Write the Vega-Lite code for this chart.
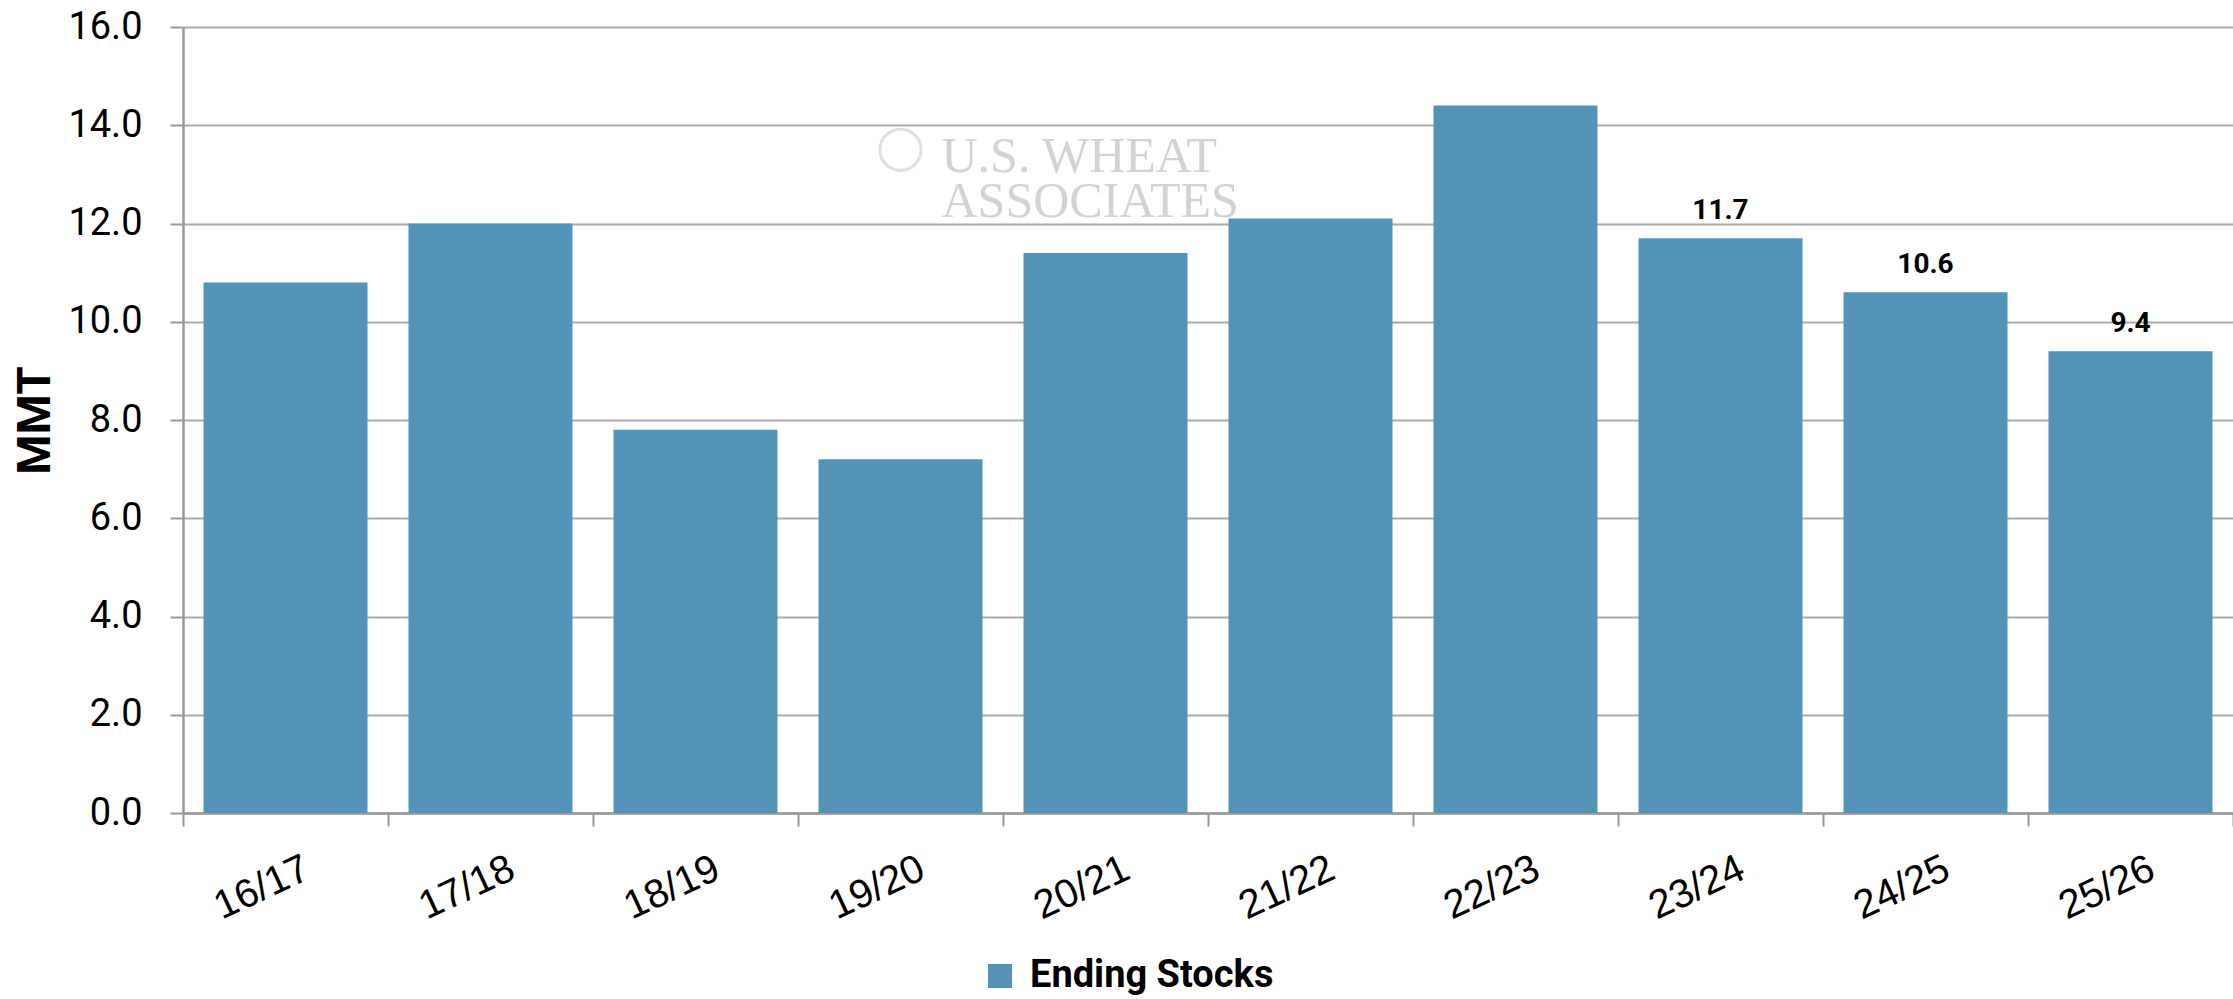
{
  "$schema": "https://vega.github.io/schema/vega-lite/v6.json",
  "width": 2050,
  "height": 786,
  "autosize": {"type": "none"},
  "padding": {"left": 183, "top": 27, "right": 0, "bottom": 186},
  "background": "white",
  "config": {"view": {"stroke": null}, "font": "Roboto"},
  "datasets": {
    "stocks": [
      {"year": "16/17", "value": 10.8},
      {"year": "17/18", "value": 12.0},
      {"year": "18/19", "value": 7.8},
      {"year": "19/20", "value": 7.2},
      {"year": "20/21", "value": 11.4},
      {"year": "21/22", "value": 12.1},
      {"year": "22/23", "value": 14.4},
      {"year": "23/24", "value": 11.7},
      {"year": "24/25", "value": 10.6},
      {"year": "25/26", "value": 9.4}
    ],
    "watermark": [
      {"line": "U.S. WHEAT", "year": "19/20", "value": 13.04},
      {"line": "ASSOCIATES", "year": "19/20", "value": 12.13}
    ],
    "globe": [
      {"year": "19/20", "value": 13.5}
    ]
  },
  "layer": [
    {
      "data": {"name": "stocks"},
      "mark": {"type": "bar", "width": {"band": 0.8}},
      "encoding": {
        "x": {
          "field": "year",
          "type": "nominal",
          "sort": null,
          "scale": {"paddingInner": 0, "paddingOuter": 0},
          "axis": {
            "title": null,
            "labelAngle": -25,
            "labelAlign": "right",
            "labelBaseline": "top",
            "labelFont": "Liberation Sans",
            "labelFontSize": 40,
            "labelColor": "#000000",
            "labelPadding": 22,
            "labelOffset": 13,
            "tickBand": "extent",
            "tickSize": 13,
            "tickColor": "#999999",
            "tickWidth": 2,
            "domainColor": "#999999",
            "domainWidth": 2.5
          }
        },
        "y": {
          "field": "value",
          "type": "quantitative",
          "scale": {"domain": [0, 16], "nice": false},
          "axis": {
            "values": [0, 2, 4, 6, 8, 10, 12, 14, 16],
            "format": ".1f",
            "title": "MMT",
            "titleFont": "Roboto",
            "titleFontSize": 46,
            "titleFontWeight": "bold",
            "titleColor": "#000000",
            "titleAngle": 270,
            "titleX": -148,
            "titleY": 393,
            "titleAlign": "center",
            "titleBaseline": "middle",
            "labelFont": "Roboto",
            "labelFontSize": 38,
            "labelColor": "#000000",
            "labelPadding": 28,
            "tickSize": 13,
            "tickColor": "#999999",
            "tickWidth": 2,
            "domainColor": "#999999",
            "domainWidth": 2.5,
            "grid": true,
            "gridColor": "#aaaaaa",
            "gridWidth": 2
          }
        },
        "color": {
          "datum": "Ending Stocks",
          "type": "nominal",
          "scale": {"range": ["#5493b8"]},
          "legend": {
            "title": null,
            "orient": "none",
            "legendX": 798,
            "legendY": 930,
            "symbolType": "square",
            "symbolSize": 576,
            "symbolStrokeWidth": 0,
            "labelFont": "Roboto",
            "labelFontSize": 38,
            "labelFontWeight": "bold",
            "labelColor": "#000000",
            "labelOffset": 11,
            "labelLimit": 600
          }
        }
      }
    },
    {
      "data": {"name": "stocks"},
      "transform": [{"filter": {"field": "year", "oneOf": ["23/24", "24/25", "25/26"]}}],
      "mark": {"type": "text", "font": "Roboto", "fontWeight": "bold", "fontSize": 28, "dy": -19, "baseline": "alphabetic", "align": "center", "color": "#000000"},
      "encoding": {
        "x": {"field": "year", "type": "nominal", "sort": null},
        "y": {"field": "value", "type": "quantitative"},
        "text": {"field": "value", "type": "quantitative", "format": ".1f"}
      }
    },
    {
      "data": {"name": "watermark"},
      "mark": {"type": "text", "font": "Liberation Serif", "fontSize": 50, "align": "left", "baseline": "alphabetic", "dx": 41, "color": "#d3d3d3"},
      "encoding": {
        "x": {"field": "year", "type": "nominal", "sort": null},
        "y": {"field": "value", "type": "quantitative"},
        "text": {"field": "line"}
      }
    },
    {
      "data": {"name": "globe"},
      "mark": {"type": "point", "shape": "circle", "filled": false, "size": 1700, "strokeWidth": 3, "color": "#d3d3d3"},
      "encoding": {
        "x": {"field": "year", "type": "nominal", "sort": null},
        "y": {"field": "value", "type": "quantitative"}
      }
    }
  ]
}
